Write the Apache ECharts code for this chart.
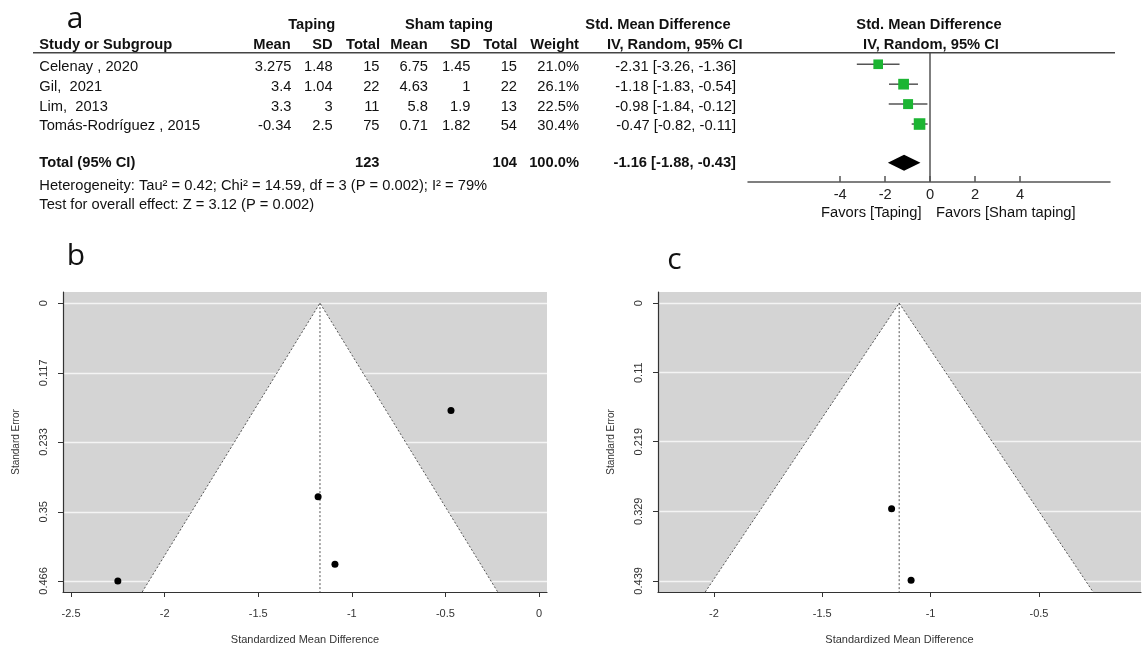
<!DOCTYPE html>
<html><head><meta charset="utf-8">
<script src="https://cdn.jsdelivr.net/npm/echarts@6/dist/echarts.min.js"></script>
<style>html,body{margin:0;padding:0;background:#fff}#c{width:1144px;height:650px}</style>
</head><body><div id="c"></div>
<script>
// ===== Panel a: forest plot data =====
const studies = ['Celenay , 2020', 'Gil,  2021', 'Lim,  2013', 'Tomás-Rodríguez , 2015'];
const tapingMean = [3.275, 3.4, 3.3, -0.34];
const tapingSD = [1.48, 1.04, 3, 2.5];
const tapingTotal = [15, 22, 11, 75];
const shamMean = [6.75, 4.63, 5.8, 0.71];
const shamSD = [1.45, 1, 1.9, 1.82];
const shamTotal = [15, 22, 13, 54];
const weight = [21.0, 26.1, 22.5, 30.4];
const smd = [-2.31, -1.18, -0.98, -0.47];
const ciLow = [-3.26, -1.83, -1.84, -0.82];
const ciHigh = [-1.36, -0.54, -0.12, -0.11];
const totalTaping = 123;
const totalSham = 104;
const totalWeight = 100.0;
const totalSmd = -1.16;
const totalCi = [-1.88, -0.43];
const heterogeneityText = 'Heterogeneity: Tau² = 0.42; Chi² = 14.59, df = 3 (P = 0.002); I² = 79%';
const overallText = 'Test for overall effect: Z = 3.12 (P = 0.002)';
const forestTicks = [-4, -2, 0, 2, 4];

// ===== Panel b: funnel plot data =====
const funnelBSmd = [-2.25, -0.47, -1.18, -1.09];
const funnelBSe = [0.466, 0.18, 0.325, 0.438];
const funnelBCenter = -1.17;
const seTicksB = [0, 0.117, 0.233, 0.35, 0.466];
const smdTicksB = [-2.5, -2, -1.5, -1, -0.5, 0];

// ===== Panel c: funnel plot data =====
const funnelCSmd = [-1.18, -1.09];
const funnelCSe = [0.325, 0.438];
const funnelCCenter = -1.145;
const seTicksC = [0, 0.11, 0.219, 0.329, 0.439];
const smdTicksC = [-2, -1.5, -1, -0.5];

// ===== layout =====
const FONT = '"Liberation Sans", Arial, sans-serif';
const FS = 14.7;
const TOTAL_ROW = 5.95;
const B_X = [-2.543, 0.043], B_Y = [-0.0186, 0.4846];
const C_X = [-2.258, -0.029], C_Y = [-0.0176, 0.4566];

function txt(x, y, s, align, bold, size, family) {
  return {type: 'text', x: x, y: y, silent: true, z: 10,
    style: {text: s, font: (bold ? 'bold ' : '') + (size || FS) + 'px ' + (family || FONT),
      fill: '#111', align: align, verticalAlign: 'middle'}};
}
const COL = {tMean: 291.5, tSD: 332.7, tTot: 379.5, sMean: 428, sSD: 470.5, sTot: 517, w: 579, smd: 736};
const rowY = i => 67 + 19.8 * i;
const f2 = v => v.toFixed(2);
const ciStr = (e, l, h) => f2(e) + ' [' + f2(l) + ', ' + f2(h) + ']';

const graphics = [];
// headers
graphics.push(txt(311.7, 25, 'Taping', 'center', true));
graphics.push(txt(449, 25, 'Sham taping', 'center', true));
graphics.push(txt(658, 25, 'Std. Mean Difference', 'center', true));
graphics.push(txt(929, 25, 'Std. Mean Difference', 'center', true));
graphics.push(txt(39.3, 45, 'Study or Subgroup', 'left', true));
graphics.push(txt(290.7, 45, 'Mean', 'right', true));
graphics.push(txt(332.7, 45, 'SD', 'right', true));
graphics.push(txt(380, 45, 'Total', 'right', true));
graphics.push(txt(427.7, 45, 'Mean', 'right', true));
graphics.push(txt(470.7, 45, 'SD', 'right', true));
graphics.push(txt(517.3, 45, 'Total', 'right', true));
graphics.push(txt(579, 45, 'Weight', 'right', true));
graphics.push(txt(742.7, 45, 'IV, Random, 95% CI', 'right', true));
graphics.push(txt(931, 45, 'IV, Random, 95% CI', 'center', true));
graphics.push({type: 'line', silent: true, z: 10, shape: {x1: 33, y1: 52.7, x2: 1115, y2: 52.7}, style: {stroke: '#444', lineWidth: 1.5}});
// rows
studies.forEach((s, i) => {
  const y = rowY(i);
  graphics.push(txt(39.3, y, s, 'left'));
  graphics.push(txt(COL.tMean, y, String(tapingMean[i]), 'right'));
  graphics.push(txt(COL.tSD, y, String(tapingSD[i]), 'right'));
  graphics.push(txt(COL.tTot, y, String(tapingTotal[i]), 'right'));
  graphics.push(txt(COL.sMean, y, String(shamMean[i]), 'right'));
  graphics.push(txt(COL.sSD, y, String(shamSD[i]), 'right'));
  graphics.push(txt(COL.sTot, y, String(shamTotal[i]), 'right'));
  graphics.push(txt(COL.w, y, weight[i].toFixed(1) + '%', 'right'));
  graphics.push(txt(COL.smd, y, ciStr(smd[i], ciLow[i], ciHigh[i]), 'right'));
});
graphics.push(txt(39.3, 163.3, 'Total (95% CI)', 'left', true));
graphics.push(txt(COL.tTot, 163.3, String(totalTaping), 'right', true));
graphics.push(txt(COL.sTot, 163.3, String(totalSham), 'right', true));
graphics.push(txt(COL.w, 163.3, totalWeight.toFixed(1) + '%', 'right', true));
graphics.push(txt(COL.smd, 163.3, ciStr(totalSmd, totalCi[0], totalCi[1]), 'right', true));
graphics.push(txt(39.3, 186, heterogeneityText, 'left'));
graphics.push(txt(39.3, 205, overallText, 'left'));
graphics.push(txt(871.3, 213.3, 'Favors [Taping]', 'center'));
graphics.push(txt(1005.8, 213.3, 'Favors [Sham taping]', 'center'));
// panel letters
graphics.push(txt(75, 19, 'a', 'center', false, 30, '"Open Sans", sans-serif'));
graphics.push(txt(76, 256.5, 'b', 'center', false, 30, '"Open Sans", sans-serif'));
graphics.push(txt(674.5, 260.5, 'c', 'center', false, 30, '"Open Sans", sans-serif'));

function funnelRender(params, api) {
  const c = api.value(0), ymax = api.value(1);
  const apex = api.coord([c, 0]);
  const bl = api.coord([c - 1.96 * ymax, ymax]);
  const br = api.coord([c + 1.96 * ymax, ymax]);
  const bc = api.coord([c, ymax]);
  return {type: 'group', children: [
    {type: 'polygon', shape: {points: [apex, bl, br]}, style: {fill: '#fff', stroke: null}},
    {type: 'polyline', shape: {points: [bl, apex, br]}, style: {stroke: '#555', lineWidth: 1, lineDash: [2, 2], fill: null}},
    {type: 'line', shape: {x1: apex[0], y1: apex[1], x2: bc[0], y2: bc[1]}, style: {stroke: '#555', lineWidth: 1, lineDash: [2, 2]}}
  ]};
}

const tickFont = {fontFamily: FONT, fontSize: 11, color: '#333'};
function funnelX(idx, range, ticks) {
  return {type: 'value', gridIndex: idx, min: range[0], max: range[1],
    name: 'Standardized Mean Difference', nameLocation: 'middle', nameGap: 42,
    nameTextStyle: {fontFamily: FONT, fontSize: 11, color: '#333'},
    axisLine: {onZero: false, lineStyle: {color: '#333', width: 1.2}},
    axisTick: {show: true, length: 5, customValues: ticks, lineStyle: {color: '#333'}},
    axisLabel: Object.assign({customValues: ticks, margin: 16}, tickFont),
    splitLine: {show: false}};
}
function funnelY(idx, range, ticks) {
  return {type: 'value', gridIndex: idx, inverse: true, min: range[0], max: range[1],
    name: 'Standard Error', nameLocation: 'middle', nameGap: 42,
    nameTextStyle: {fontFamily: FONT, fontSize: 10, color: '#333'},
    axisLine: {show: true, onZero: false, lineStyle: {color: '#333', width: 1.2}},
    axisTick: {show: true, length: 5, customValues: ticks, lineStyle: {color: '#333'}},
    axisLabel: Object.assign({customValues: ticks, margin: 14, rotate: 90}, tickFont),
    splitLine: {show: true, lineStyle: {color: '#f4f4f4', width: 1.3}}};
}

const option = {
  animation: false,
  backgroundColor: '#fff',
  graphic: graphics,
  grid: [
    {left: 748, top: 52.7, width: 362, height: 129.3},
    {left: 63, top: 292, width: 484, height: 300, show: true, backgroundColor: '#d4d4d4', borderWidth: 0},
    {left: 658, top: 292, width: 483, height: 300, show: true, backgroundColor: '#d4d4d4', borderWidth: 0}
  ],
  xAxis: [
    {type: 'value', gridIndex: 0, min: -8.1, max: 8,
      axisLine: {onZero: false, lineStyle: {color: '#555', width: 1.5}},
      axisTick: {show: true, inside: true, length: 6, customValues: forestTicks, lineStyle: {color: '#555', width: 1.5}},
      axisLabel: {customValues: forestTicks, margin: 5, fontFamily: FONT, fontSize: FS, color: '#222'},
      splitLine: {show: false}},
    funnelX(1, B_X, smdTicksB),
    funnelX(2, C_X, smdTicksC)
  ],
  yAxis: [
    {type: 'value', gridIndex: 0, inverse: true, min: 0.42, max: 6.91, show: false},
    funnelY(1, B_Y, seTicksB),
    funnelY(2, C_Y, seTicksC)
  ],
  series: [
    // forest CI lines
    {type: 'custom', xAxisIndex: 0, yAxisIndex: 0, z: 3,
      data: studies.map((s, i) => [ciLow[i], ciHigh[i], i + 1]),
      encode: {x: [0, 1], y: 2},
      renderItem: (params, api) => {
        const y = api.value(2);
        const p1 = api.coord([api.value(0), y]);
        const p2 = api.coord([api.value(1), y]);
        return {type: 'line', shape: {x1: p1[0], y1: p1[1], x2: p2[0], y2: p2[1]}, style: {stroke: '#555', lineWidth: 1.5}};
      }},
    // forest squares
    {type: 'scatter', xAxisIndex: 0, yAxisIndex: 0, z: 4, symbol: 'rect',
      data: studies.map((s, i) => [smd[i], i + 1, weight[i]]),
      symbolSize: v => 2.1 * Math.sqrt(v[2]),
      itemStyle: {color: '#1cb533', opacity: 1},
      markLine: {silent: true, symbol: ['none', 'none'], label: {show: false},
        lineStyle: {color: '#555', width: 1.5, type: 'solid'}, data: [{xAxis: 0}]}},
    // forest diamond
    {type: 'custom', xAxisIndex: 0, yAxisIndex: 0, z: 4,
      data: [[totalCi[0], totalSmd, totalCi[1], TOTAL_ROW]],
      encode: {x: [0, 1, 2], y: 3},
      renderItem: (params, api) => {
        const r = api.value(3);
        const pl = api.coord([api.value(0), r]);
        const pe = api.coord([api.value(1), r]);
        const ph = api.coord([api.value(2), r]);
        return {type: 'polygon', shape: {points: [[pl[0], pl[1]], [pe[0], pe[1] - 8], [ph[0], ph[1]], [pe[0], pe[1] + 8]]}, style: {fill: '#000'}};
      }},
    // funnel b
    {type: 'custom', xAxisIndex: 1, yAxisIndex: 1, z: 2, data: [[funnelBCenter, B_Y[1]]], renderItem: funnelRender},
    {type: 'scatter', xAxisIndex: 1, yAxisIndex: 1, z: 5, symbolSize: 7, itemStyle: {color: '#000', opacity: 1},
      data: funnelBSmd.map((v, i) => [v, funnelBSe[i]])},
    // funnel c
    {type: 'custom', xAxisIndex: 2, yAxisIndex: 2, z: 2, data: [[funnelCCenter, C_Y[1]]], renderItem: funnelRender},
    {type: 'scatter', xAxisIndex: 2, yAxisIndex: 2, z: 5, symbolSize: 7, itemStyle: {color: '#000', opacity: 1},
      data: funnelCSmd.map((v, i) => [v, funnelCSe[i]])}
  ]
};
const chart = echarts.init(document.getElementById('c'), null, {renderer: 'canvas'});
chart.setOption(option);
</script>
</body></html>
